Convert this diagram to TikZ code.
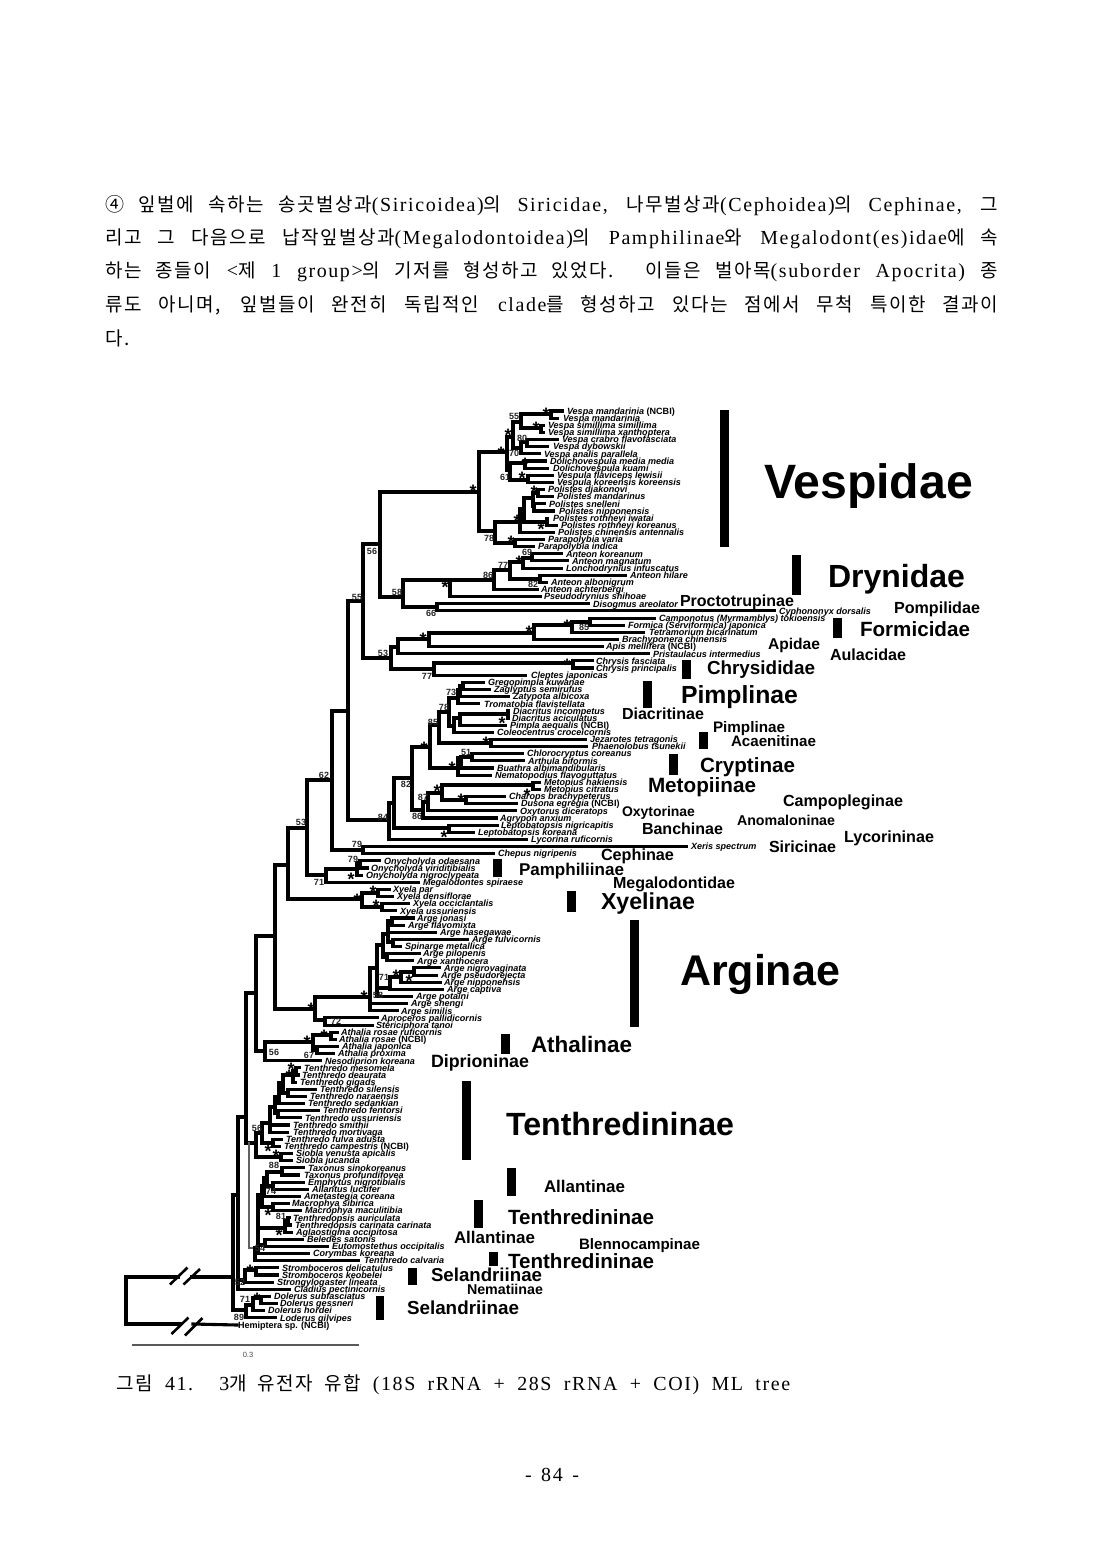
\documentclass[tikz,border=0pt]{standalone}
\usepackage{fontspec}
\setmainfont{Liberation Sans}
\newfontfamily\KR[LetterSpace=8]{Noto Sans CJK KR}
\newfontfamily\LT[LetterSpace=8,Scale=1.05]{Liberation Serif}
\newcommand\K[1]{{\KR #1}}
\newbox\gbox
\newdimen\gw
\tikzset{
  br/.style={line width=3.1pt,line cap=rect,line join=miter,black},
  brgray/.style={line width=2.6pt,line cap=rect,black!62},
  tip/.style={anchor=west,inner sep=0pt,outer sep=0pt,text height=6.5pt,text depth=0pt,font=\fontsize{9.05}{9}\selectfont\bfseries\itshape},
  supp/.style={inner sep=0pt,font=\fontsize{9}{9}\selectfont\bfseries,text=black!85},
  starlab/.style={inner sep=0pt,text height=0pt,text depth=0pt,yshift=-10pt,font=\fontsize{18}{18}\selectfont\bfseries},
  grpbar/.style={fill=black},
  para/.style={anchor=west,inner sep=0pt,font=\fontsize{19}{22}\selectfont},
  slash/.style={line width=2.6pt,black},
}
\newcommand\C[3]{\coordinate (#1) at (#2,#3);}
\newcommand\T[5]{\pgfmathsetmacro\yy{411+7.14*#2}\pgfmathsetmacro\gp{#4-#3}%
  \node[tip] (t#2) at (#3,\yy) {\hspace*{\gp pt}#5};\draw[br] (#1) |- (t#2.west);}
\newcommand\G[5]{\pgfinterruptpicture\global\setbox\gbox\hbox{\normalfont\bfseries\fontsize{20}{24}\selectfont #5}\endpgfinterruptpicture\gw=\wd\gbox
  \pgfmathsetmacro\sz{20*(#3-#2)/\gw}%
  \pgfmathsetmacro\cx{(#2+#3)/2}\pgfmathsetmacro\by{#4+0.36*\sz}%
  \node[anchor=base,inner sep=0pt] (#1) at (\cx,\by) {\normalfont\bfseries\fontsize{\sz}{\sz}\selectfont #5};}
\newcommand\NC{{\upshape (NCBI)}}
\begin{document}
\begin{tikzpicture}[x=1pt,y=-1pt]
\useasboundingbox (0,0) rectangle (1100,1558);
\fill[white] (0,0) rectangle (1100,1558);
% paragraph
\node[para] (l1) at (105,206) {\makebox[893pt][s]{\LT \K{④ 잎벌에 속하는 송곳벌상과}(Siricoidea)\K{의} Siricidae, \K{나무벌상과}(Cephoidea)\K{의} Cephinae, \K{그}}};
\node[para] (l2) at (105,239) {\makebox[893pt][s]{\LT \K{리고 그 다음으로 납작잎벌상과}(Megalodontoidea)\K{의} Pamphilinae\K{와} Megalodont(es)idae\K{에 속}}};
\node[para] (l3) at (105,272) {\makebox[893pt][s]{\LT \K{하는 종들이} <\K{제} 1 group>\K{의 기저를 형성하고 있었다. 이들은 벌아목}(suborder Apocrita) \K{종}}};
\node[para] (l4) at (105,305) {\makebox[893pt][s]{\LT \K{류도 아니며, 잎벌들이 완전히 독립적인} clade\K{를 형성하고 있다는 점에서 무척 특이한 결과이}}};
\node[para] (l5) at (105,338) {\K{다.}};
\node[para] (cap) at (116,1385) {\makebox[674pt][s]{\LT \K{그림} 41. 3\K{개 유전자 유합} (18S rRNA + 28S rRNA + COI) ML tree}};
\node[para,anchor=center] (pg) at (552,1475) {\LT -\hspace{3pt} 84\hspace{3pt} -};
% internal vertices
\C{A}{507}{452}\C{B}{513}{437}\C{D}{521}{422}\C{vone}{551}{414}\C{vtwo}{541}{428}
\C{E}{521}{448}\C{F}{527}{442}\C{Cc}{510}{470}\C{Gg}{525}{463}\C{Hh}{528}{480}
\C{VR}{479}{492}\C{P}{495}{531}\C{Q}{520}{522}\C{R}{515}{543}\C{U}{524}{509}\C{W}{533}{498}
\C{Wa}{538}{493}\C{Wb}{534}{506}\C{Xr}{547}{522}
\C{Tone}{380}{544}\C{Nff}{363}{601}\C{Dfe}{403}{597}\C{DRs}{450}{580}\C{Dss}{437}{607}
\C{Dei}{494}{580}\C{Dsv}{510}{570}\C{Ds}{523}{562}\C{Dsn}{532}{558}\C{Dee}{540}{579}
\C{Nft}{391}{658}\C{Ha}{398}{647}\C{Hb}{434}{669}\C{Hs}{429}{639}\C{Hss}{534}{633}\C{As}{572}{625}\C{Aef}{590}{622}\C{Cs}{573}{663}
\C{Nfe}{348}{711}\C{Nef}{389}{820}\C{Ntn}{394}{803}\C{Net}{412}{778}\C{Lept}{449}{828}
\C{Sa}{430}{747}\C{Nes}{423}{810}\C{Nsv}{428}{802}\C{Nx}{442}{793}\C{Me}{533}{785}\C{Ch}{466}{800}
\C{Pef}{439}{725}\C{Cr}{458}{768}\C{Pse}{449}{712}\C{Je}{491}{743}\C{Pst}{458}{698}\C{Ptw}{454}{726}
\C{Pfo}{460}{690}\C{Pon}{463}{686}\C{Ptq}{460}{718}\C{Dst}{508}{714}\C{Cra}{461}{758}\C{Crb}{472}{757}
\C{Nsx}{332}{780}\C{Sn}{363}{850}\C{Nfz}{307}{828}\C{Nso}{326}{875}\C{Ony}{357}{869}\C{Osn}{360}{863}
\C{Nte}{288}{865}\C{Xy}{362}{899}\C{Xa}{378}{893}\C{Xb}{382}{907}
\C{Nts}{275}{936}\C{Arg}{315}{1009}\C{Ags}{370}{997}\C{Asv}{325}{1020}\C{Agf}{377}{968}
\C{Ago}{383}{945}\C{Agn}{390}{988}\C{Agt}{401}{977}\C{Agh}{414}{972}
\C{Agu}{388}{934}\C{Agv}{387}{957}\C{Agw}{392}{921}\C{Agy}{393}{942}
\C{Ath}{265}{1051}\C{Nfs}{256}{993}\C{Aa}{313}{1042}\C{Ab}{331}{1035}\C{Ac}{317}{1050}
\C{Nfv}{246}{1117}\C{Nfn}{249}{1143}\C{Ntr}{238}{1195}\C{Rz}{233}{1277}
\C{Neu}{246}{1310}\C{Dfz}{253}{1305}\C{Dos}{261}{1298}\C{Se}{245}{1280}\C{Ses}{256}{1270}
\C{Ua}{296}{1071}\C{Ub}{293}{1075}\C{Uc}{283}{1083}\C{Ud}{288}{1093}\C{Ue}{279}{1097}\C{Uf}{275}{1107}\C{Ug}{278}{1113}
\C{Uh}{270}{1123}\C{Ui}{262}{1133}\C{Uj}{273}{1143}\C{Uk}{256}{1143}\C{Si}{281}{1157}
\C{La}{255}{1248}\C{Lb}{258}{1248}\C{Lc}{262}{1195}\C{Ld}{264}{1186}\C{Le}{267}{1178}\C{Ta}{282}{1172}\C{Lf}{273}{1186}
\C{Ma}{273}{1207}\C{Tp}{285}{1228}\C{Tq}{288}{1221}\C{Nfo}{265}{1245}
% connectors between vertices
\foreach \a/\b in {A/B,A/Cc,B/D,B/E,D/vone,D/vtwo,E/F,Cc/Gg,Cc/Hh,VR/A,VR/P,P/Q,P/R,Q/U,U/W,U/Xr,W/Wa,W/Wb,
  Nff/Tone,Tone/VR,Tone/Dfe,Dfe/DRs,Dfe/Dss,DRs/Dei,Dei/Dsv,Dsv/Ds,Dsv/Dee,Ds/Dsn,
  Nff/Nft,Nft/Ha,Nft/Hb,Ha/Hs,Hs/Hss,Hss/As,As/Aef,Hb/Cs,
  Nfe/Nff,Nfe/Nef,Nef/Ntn,Ntn/Net,Ntn/Lept,Net/Sa,Net/Nes,Nes/Nsv,Nsv/Nx,Nx/Me,Nx/Ch,
  Sa/Pef,Sa/Cr,Pef/Pse,Pef/Je,Pse/Pst,Pse/Ptw,Pst/Pfo,Pfo/Pon,Ptw/Ptq,Ptq/Dst,Cr/Cra,Cra/Crb,
  Nsx/Nfe,Nsx/Sn,Nfz/Nsx,Nfz/Nso,Nso/Ony,Ony/Osn,Nte/Nfz,Nte/Xy,Xy/Xa,Xy/Xb,
  Nts/Nte,Nts/Arg,Arg/Ags,Arg/Asv,Ags/Agf,Agf/Ago,Agf/Agn,Agn/Agt,Agt/Agh,Ago/Agu,Ago/Agv,Agu/Agw,Agu/Agy,
  Nfs/Nts,Nfs/Ath,Ath/Aa,Aa/Ab,Aa/Ac,Nfv/Nfs,Nfv/Nfn,Ntr/Nfv,Rz/Ntr,Rz/Neu,Neu/Dfz,Dfz/Dos,Ntr/Se,Se/Ses,
  Ub/Ua,Uc/Ub,Uc/Ud,Ue/Uc,Uf/Ue,Uf/Ug,Uh/Uf,Ui/Uh,Ui/Uj,Uk/Ui,Uk/Si,Nfn/Uk,
  La/Lb,Lb/Lc,Lc/Ld,Ld/Le,Le/Ta,Le/Lf,Lc/Ma,Lb/Tp,Tp/Tq,Lb/Nfo}
  \draw[br] (\a) |- (\b);
\draw[brgray] (Nfn) |- (La);
% tips
\T{vone}{0}{562}{567}{Vespa mandarinia \NC}
\T{vone}{1}{557}{563}{Vespa mandarinia}
\T{vtwo}{2}{543}{548}{Vespa simillima simillima}
\T{vtwo}{3}{543}{548}{Vespa simillima xanthoptera}
\T{F}{4}{557}{562}{Vespa crabro flavofasciata}
\T{F}{5}{547}{553}{Vespa dybowskii}
\T{E}{6}{539}{544}{Vespa analis parallela}
\T{Gg}{7}{545}{550}{Dolichovespula media media}
\T{Gg}{8}{547}{553}{Dolichovespula kuami}
\T{Hh}{9}{552}{557}{Vespula flaviceps lewisii}
\T{Hh}{10}{552}{557}{Vespula koreensis koreensis}
\T{Wa}{11}{543}{548}{Polistes djakonovi}
\T{Wa}{12}{552}{557}{Polistes mandarinus}
\T{Wb}{13}{544}{549}{Polistes snelleni}
\T{Wb}{14}{553}{559}{Polistes nipponensis}
\T{Xr}{15}{547}{553}{Polistes rothneyi iwatai}
\T{Xr}{16}{556}{561}{Polistes rothneyi koreanus}
\T{Q}{17}{553}{558}{Polistes chinensis antennalis}
\T{R}{18}{543}{548}{Parapolybia varia}
\T{R}{19}{533}{538}{Parapolybia indica}
\T{Dsn}{20}{561}{566}{Anteon koreanum}
\T{Dsn}{21}{567}{572}{Anteon magnatum}
\T{Ds}{22}{561}{566}{Lonchodrynius infuscatus}
\T{Dee}{23}{625}{630}{Anteon hilare}
\T{Dee}{24}{546}{551}{Anteon albonigrum}
\T{Dei}{25}{537}{541}{Anteon achterbergi}
\T{DRs}{26}{540}{544}{Pseudodrynius shihoae}
\T{Dss}{27}{588}{593}{Disogmus areolator}
\T{Dss}{28}{774}{779}{Cyphononyx dorsalis}
\T{Aef}{29}{654}{659}{Camponotus (Myrmamblys) tokioensis}
\T{Aef}{30}{623}{628}{Formica (Serviformica) japonica}
\T{As}{31}{643}{649}{Tetramorium bicarinatum}
\T{Hss}{32}{617}{622}{Brachyponera chinensis}
\T{Hs}{33}{602}{606}{Apis mellifera \NC}
\T{Ha}{34}{648}{653}{Pristaulacus intermedius}
\T{Cs}{35}{592}{596}{Chrysis fasciata}
\T{Cs}{36}{592}{596}{Chrysis principalis}
\T{Hb}{37}{525}{531}{Cleptes japonicas}
\T{Pon}{38}{483}{488}{Gregopimpla kuwanae}
\T{Pon}{39}{489}{494}{Zaglyptus semirufus}
\T{Pfo}{40}{508}{513}{Zatypota albicoxa}
\T{Pst}{41}{478}{484}{Tromatobia flavistellata}
\T{Dst}{42}{508}{513}{Diacritus incompetus}
\T{Dst}{43}{508}{512}{Diacritus aciculatus}
\T{Ptq}{44}{505}{510}{Pimpla aequalis \NC}
\T{Ptw}{45}{492}{497}{Coleocentrus croceicornis}
\T{Je}{46}{585}{590}{Jezarotes tetragonis}
\T{Je}{47}{586}{592}{Phaenolobus tsunekii}
\T{Crb}{48}{522}{527}{Chlorocryptus coreanus}
\T{Crb}{49}{523}{528}{Arthula biformis}
\T{Cra}{50}{492}{497}{Buathra albimandibularis}
\T{Cr}{51}{490}{495}{Nematopodius flavoguttatus}
\T{Me}{52}{539}{544}{Metopius hakiensis}
\T{Me}{53}{539}{544}{Metopius citratus}
\T{Ch}{54}{504}{509}{Charops brachypeterus}
\T{Ch}{55}{516}{521}{Dusona egregia \NC}
\T{Nsv}{56}{515}{520}{Oxytorus diceratops}
\T{Nes}{57}{496}{500}{Agrypon anxium}
\T{Lept}{58}{497}{501}{Leptobatopsis nigricapitis}
\T{Lept}{59}{473}{478}{Leptobatopsis koreana}
\T{Nef}{60}{526}{531}{Lycorina ruficornis}
\T{Sn}{61}{686}{691}{Xeris spectrum}
\T{Sn}{62}{493}{498}{Chepus nigripenis}
\T{Osn}{63}{379}{384}{Onycholyda odaesana}
\T{Osn}{64}{367}{371}{Onycholyda viriditibialis}
\T{Ony}{65}{361}{366}{Onycholyda nigroclypeata}
\T{Nso}{66}{418}{423}{Megalodontes spiraese}
\T{Xa}{67}{389}{393}{Xyela par}
\T{Xa}{68}{392}{397}{Xyela densiflorae}
\T{Xb}{69}{408}{413}{Xyela occiclantalis}
\T{Xb}{70}{395}{400}{Xyela ussuriensis}
\T{Agw}{71}{413}{417}{Arge jonasi}
\T{Agw}{72}{403}{408}{Arge flavomixta}
\T{Agu}{73}{435}{440}{Arge hasegawae}
\T{Agy}{74}{467}{472}{Arge fulvicornis}
\T{Agy}{75}{400}{405}{Spinarge metallica}
\T{Agv}{76}{419}{423}{Arge pilopenis}
\T{Agv}{77}{412}{417}{Arge xanthocera}
\T{Agh}{78}{439}{444}{Arge nigrovaginata}
\T{Agh}{79}{436}{441}{Arge pseudorejecta}
\T{Agt}{80}{440}{444}{Arge nipponehsis}
\T{Agn}{81}{442}{447}{Arge captiva}
\T{Agf}{82}{411}{416}{Arge potaini}
\T{Ags}{83}{406}{411}{Arge shengi}
\T{Ags}{84}{397}{401}{Arge similis}
\T{Asv}{85}{377}{381}{Aproceros pallidicornis}
\T{Asv}{86}{372}{376}{Stericiphora tanoi}
\T{Ab}{87}{337}{341}{Athalia rosae ruficornis}
\T{Ab}{88}{335}{339}{Athalia rosae \NC}
\T{Ac}{89}{337}{342}{Athalia japonica}
\T{Ac}{90}{333}{338}{Athalia proxima}
\T{Ath}{91}{320}{325}{Nesodiprion koreana}
\T{Ua}{92}{299}{304}{Tenthredo mesomela}
\T{Ua}{93}{298}{302}{Tenthredo deaurata}
\T{Ub}{94}{295}{300}{Tenthredo gigads}
\T{Ud}{95}{315}{320}{Tenthredo silensis}
\T{Ud}{96}{305}{310}{Tenthredo naraensis}
\T{Ue}{97}{303}{308}{Tenthredo sedankian}
\T{Ug}{98}{318}{323}{Tenthredo fentorsi}
\T{Ug}{99}{300}{305}{Tenthredo ussuriensis}
\T{Uh}{100}{288}{293}{Tenthredo smithii}
\T{Uh}{101}{287}{293}{Tenthredo mortivaga}
\T{Uj}{102}{281}{286}{Tenthredo fulva adusta}
\T{Uj}{103}{279}{284}{Tenthredo campestris \NC}
\T{Si}{104}{291}{296}{Siobla venusta apicalis}
\T{Si}{105}{291}{296}{Siobla jucanda}
\T{Ta}{106}{303}{308}{Taxonus sinokoreanus}
\T{Ta}{107}{298}{304}{Taxonus profundifovea}
\T{Lf}{108}{303}{308}{Emphytus nigrotibialis}
\T{Lf}{109}{307}{312}{Allantus luctifer}
\T{Ld}{110}{299}{304}{Ametastegia coreana}
\T{Ma}{111}{288}{292}{Macrophya sibirica}
\T{Ma}{112}{300}{305}{Macrophya maculitibia}
\T{Tq}{113}{289}{293}{Tenthredopsis auriculata}
\T{Tq}{114}{290}{295}{Tenthredopsis carinata carinata}
\T{Tp}{115}{291}{296}{Aglaostigma occipitosa}
\T{Nfo}{116}{302}{307}{Beledes satonis}
\T{Nfo}{117}{327}{332}{Eutomostethus occipitalis}
\T{Lb}{118}{308}{313}{Corymbas koreana}
\T{La}{119}{358}{364}{Tenthredo calvaria}
\T{Ses}{120}{277}{282}{Stromboceros delicatulus}
\T{Ses}{121}{277}{282}{Stromboceros keobelei}
\T{Se}{122}{272}{277}{Strongylogaster lineata}
\T{Ntr}{123}{289}{294}{Cladius pectinicornis}
\T{Dos}{124}{269}{274}{Dolerus subfasciatus}
\T{Dos}{125}{276}{280}{Dolerus gessneri}
\T{Dfz}{126}{263}{268}{Dolerus hordei}
\T{Neu}{127}{275}{280}{Loderus gilvipes}
% outgroup, with broken branches
\coordinate (Rt) at (126,1300);
\coordinate (Ba) at (178,1277);\coordinate (Bb) at (192,1277);
\coordinate (Bc) at (180,1324);\coordinate (Bd) at (193,1324);
\node[tip,anchor=west,font=\fontsize{9.05}{9}\selectfont\bfseries] (t128) at (237,1325) {\hspace*{1pt}Hemiptera sp. (NCBI)};
\draw[br] (Rt) |- (Ba);\draw[br] (Bb) -- (Rz);
\draw[br] (Rt) |- (Bc);\draw[br] (Bd) -- (t128.west);
\draw[slash] (170,1284.5) -- (187.5,1267.5);\draw[slash] (183.5,1284.5) -- (200,1269);
\draw[slash] (171.5,1334) -- (188.5,1317.5);\draw[slash] (185,1335.5) -- (202.5,1318);
% scale
\coordinate (Sa0) at (132,1345);\coordinate (Sb0) at (359,1345);
\draw[line width=1.6pt,black!65] (Sa0) -- (Sb0);
\node[inner sep=0pt,font=\fontsize{7.5}{8}\selectfont,text=black!70] (sc) at (248,1355) {0.3};
% bootstrap supports
\foreach \x/\y/\t [count=\i] in {514/416/55,522/438/80,514/453/70,505/477/61,489/538/78,527/552/69,503/565/77,488/575/86,533/584/82,397/592/58,372/551/56,357/597/55,431/613/66,
 584/627/85,383/653/53,427/676/77,451/692/73,444/707/78,433/722/85,466/752/51,406/784/82,423/797/87,383/817/84,417/816/86,
 301/822/53,357/844/79,353/859/79,319/882/71,384/977/71,378/995/58,336/1021/72,274/1052/56,309/1055/67,324/775/62,
 257/1128/56,274/1165/88,271/1191/74,281/1216/81,260/1248/54,240/1282/52,245/1299/71,239/1317/89}
 \node[supp] (b\i) at (\x,\y) {\t};
% asterisks
\foreach \x/\y [count=\i] in {546/410,536/424,508/431,501/449,525/460,522/474,473/487,534/488,517/517,541/525,511/538,519/558,445/583,
 567/622,529/628,423/635,567/661,502/719,486/739,424/744,452/764,437/787,527/791,461/796,
 444/833,351/875,373/888,357/896,376/902,396/972,409/977,364/993,311/1005,324/1032,307/1038,
 291/1065,289/1072,268/1147,276/1152,268/1211,279/1231,250/1267,257/1295}
 \node[starlab] (a\i) at (\x,\y) {*};
% group bars
\foreach \a/\b/\c/\d in {720/410/729/547,792/555/801/595,833/618/842/638,682/660/691/679,643/681/652/708,699/732/708/749,669/754/678/775,
 493/859/502/877,567/891/576/912,630/920/639/1027,501/1034/510/1054,462/1081/471/1160,507/1168/516/1196,474/1200/483/1228,489/1252/498/1266,408/1268/417/1285,376/1296/384/1320}
 \fill[grpbar] (\a,\b) rectangle (\c,\d);
% group names
\G{g1}{764}{973}{481}{Vespidae}
\G{g2}{828}{965}{576}{Drynidae}
\G{g3}{680}{794}{601}{Proctotrupinae}
\G{g4}{894}{980}{608}{Pompilidae}
\G{g5}{860}{970}{629}{Formicidae}
\G{g6}{768}{820}{644}{Apidae}
\G{g7}{830}{906}{655}{Aulacidae}
\G{g8}{707}{815}{668}{Chrysididae}
\G{g9}{681}{798}{695}{Pimplinae}
\G{g10}{622}{704}{714}{Diacritinae}
\G{g11}{713}{785}{727}{Pimplinae}
\G{g12}{731}{816}{741}{Acaenitinae}
\G{g13}{700}{795}{765}{Cryptinae}
\G{g14}{648}{756}{785}{Metopiinae}
\G{g15}{783}{903}{801}{Campopleginae}
\G{g16}{622}{695}{811}{Oxytorinae}
\G{g17}{737}{835}{820}{Anomaloninae}
\G{g18}{642}{723}{829}{Banchinae}
\G{g19}{844}{934}{837}{Lycorininae}
\G{g20}{769}{836}{847}{Siricinae}
\G{g21}{601}{674}{855}{Cephinae}
\G{g22}{519}{624}{869}{Pamphiliinae}
\G{g23}{613}{735}{883}{Megalodontidae}
\G{g24}{601}{695}{901}{Xyelinae}
\G{g25}{680}{840}{970}{Arginae}
\G{g26}{531}{632}{1044}{Athalinae}
\G{g27}{431}{529}{1061}{Diprioninae}
\G{g28}{506}{734}{1124}{Tenthredininae}
\G{g29}{544}{625}{1186}{Allantinae}
\G{g30}{508}{654}{1217}{Tenthredininae}
\G{g31}{454}{535}{1237}{Allantinae}
\G{g32}{579}{700}{1244}{Blennocampinae}
\G{g33}{508}{654}{1261}{Tenthredininae}
\G{g34}{431}{542}{1275}{Selandriinae}
\G{g35}{467}{543}{1289}{Nematiinae}
\G{g36}{407}{519}{1308}{Selandriinae}
\end{tikzpicture}
\end{document}
